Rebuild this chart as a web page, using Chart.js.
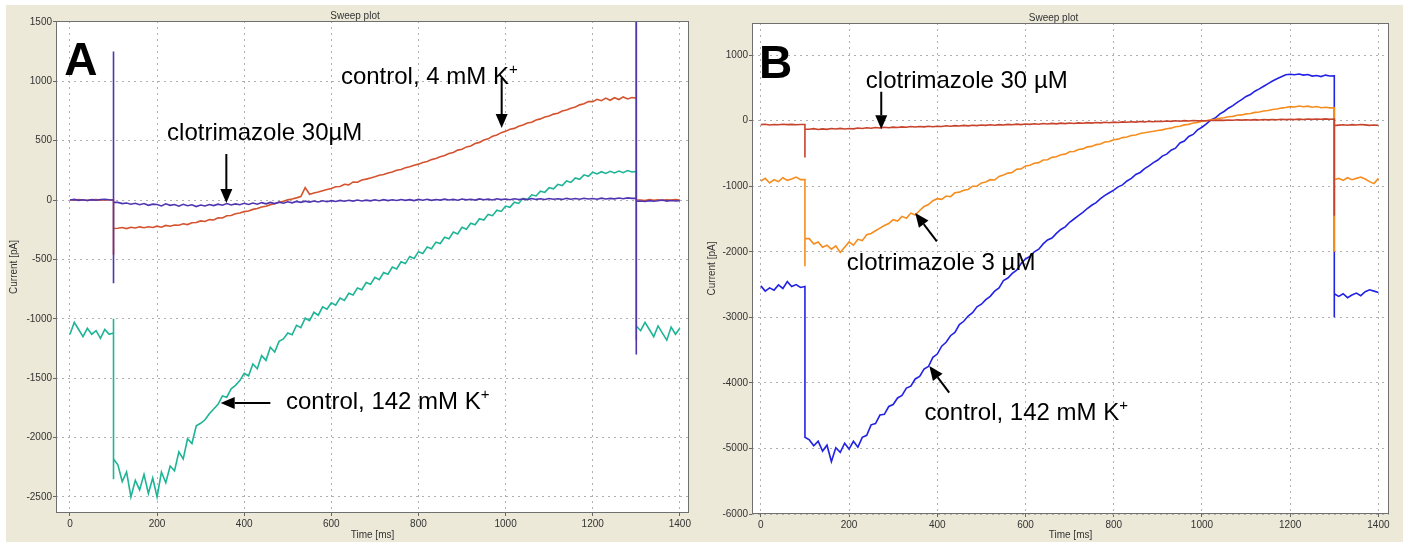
<!DOCTYPE html>
<html>
<head>
<meta charset="utf-8">
<title>Sweep plot</title>
<script src="https://cdn.jsdelivr.net/npm/chart.js"></script>
<style>
body{margin:0;background:#fff;}
.panel{position:absolute;top:5px;height:537px;background:#ece9d8;}
#panelA{left:6px;width:698px;}
#panelB{left:704px;width:699px;}
</style>
</head>
<body>
<div class="panel" id="panelA"><canvas id="chartA"></canvas></div>
<div class="panel" id="panelB"><canvas id="chartB"></canvas></div>
<script>
// sample times [ms]; the steps at 100 and 1300 ms repeat the time
const timeMs = [
  0,10,20,30,40,50,60,70,80,90,
  100,100,100,100,
  110,120,130,140,150,160,170,180,190,200,
  210,220,230,240,250,260,270,280,290,300,
  310,320,330,340,350,360,370,380,390,400,
  410,420,430,440,450,460,470,480,490,500,
  510,520,530,540,550,560,570,580,590,600,
  610,620,630,640,650,660,670,680,690,700,
  710,720,730,740,750,760,770,780,790,800,
  810,820,830,840,850,860,870,880,890,900,
  910,920,930,940,950,960,970,980,990,1000,
  1010,1020,1030,1040,1050,1060,1070,1080,1090,1100,
  1110,1120,1130,1140,1150,1160,1170,1180,1190,1200,
  1210,1220,1230,1240,1250,1260,1270,1280,1290,
  1300,1300,1300,1300,
  1310,1320,1330,1340,1350,1360,1370,1380,1390,1400
];

// panel A [pA]
const aClotri30 = [
  0,5,-3,2,-4,3,-2,4,6,2,
  0,1250,-700,-20,
  -20,-30,-25,-35,-28,-40,-30,-45,-35,-38,
  -50,-32,-45,-38,-52,-36,-48,-40,-55,-42,
  -50,-38,-47,-35,-44,-30,-42,-33,-40,-28,
  -38,-26,-35,-22,-32,-20,-30,-18,-27,-15,
  -24,-12,-20,-10,-18,-8,-16,-6,-14,-5,
  -12,-3,-10,-2,-9,0,-8,-1,-7,2,
  -6,3,-5,2,-4,4,-3,3,-5,5,
  -2,6,-3,4,-1,7,0,5,-2,8,
  1,6,-1,9,2,7,0,10,3,8,
  2,11,4,9,3,12,5,10,4,13,
  6,11,5,14,7,12,6,15,8,13,
  7,16,9,14,10,17,11,18,14,
  15,1520,-1300,-10,
  -8,-12,-5,-10,-6,0,-9,-4,-8,-6
];
const aCtrl4 = [
  2,-2,4,0,-3,1,3,-1,2,0,
  0,-460,-250,-240,
  -238,-232,-241,-229,-236,-226,-234,-225,-231,-220,
  -229,-214,-221,-211,-213,-200,-207,-191,-190,-176,
  -181,-165,-168,-149,-151,-133,-130,-116,-110,-98,
  -93,-79,-72,-59,-52,-39,-31,-19,-10,1,
  9,18,29,105,48,59,68,78,88,97,
  112,114,132,128,152,150,168,176,186,196,
  208,214,228,236,250,257,271,280,293,302,
  316,324,340,349,365,375,392,400,420,428,
  447,455,475,485,505,515,537,548,567,578,
  596,603,621,631,648,655,673,683,698,708,
  723,731,750,758,773,783,801,811,829,828,
  848,836,858,840,861,846,868,851,863,
  858,1520,0,0,
  0,-4,3,-2,2,-3,1,-1,3,0
];
const aCtrl142 = [
  -1130,-1030,-1090,-1150,-1080,-1130,-1100,-1165,-1090,-1130,
  -1120,-1000,-2350,-2180,
  -2230,-2370,-2290,-2500,-2360,-2440,-2310,-2470,-2340,-2500,
  -2290,-2380,-2240,-2280,-2120,-2180,-2010,-2050,-1900,-1880,
  -1850,-1800,-1760,-1720,-1650,-1660,-1590,-1560,-1520,-1460,
  -1480,-1380,-1420,-1310,-1350,-1240,-1280,-1190,-1170,-1120,
  -1135,-1055,-1075,-995,-1015,-945,-970,-900,-920,-865,
  -885,-825,-845,-785,-800,-740,-755,-695,-710,-650,
  -670,-610,-625,-565,-580,-520,-535,-475,-492,-435,
  -450,-395,-410,-355,-366,-313,-327,-270,-286,-230,
  -246,-196,-209,-158,-169,-121,-132,-86,-96,-51,
  -62,-18,-29,14,4,44,34,74,64,104,
  94,132,122,160,148,186,174,212,200,234,
  220,238,224,242,228,244,230,248,236,
  240,-1180,-1100,-1060,
  -1100,-1030,-1090,-1150,-1060,-1120,-1180,-1070,-1130,-1080
];

// panel B [pA]
const bClotri30 = [
  -60,-55,-65,-58,-62,-54,-60,-57,-63,-58,
  -58,-560,-140,-127,
  -130,-122,-135,-125,-132,-120,-128,-118,-126,-120,
  -125,-112,-120,-108,-116,-105,-112,-100,-108,-98,
  -104,-94,-100,-90,-97,-88,-95,-85,-92,-84,
  -88,-78,-85,-75,-82,-72,-79,-69,-76,-66,
  -72,-63,-69,-60,-66,-56,-63,-53,-60,-50,
  -57,-47,-54,-44,-51,-41,-48,-38,-45,-36,
  -42,-33,-40,-30,-37,-27,-34,-24,-31,-22,
  -28,-19,-25,-16,-22,-13,-19,-10,-16,-8,
  -13,-5,-10,-2,-8,1,-5,3,-3,-2,
  0,3,2,9,4,11,6,13,8,14,
  10,16,11,18,13,19,14,21,16,22,
  18,24,19,25,20,26,21,27,22,
  24,-1450,-90,-75,
  -68,-62,-70,-60,-66,-58,-64,-72,-65,-70
];
const bClotri3 = [
  -920,-880,-950,-900,-930,-870,-910,-890,-860,-900,
  -900,-2220,-1750,-1800,
  -1800,-1880,-1850,-1930,-1900,-1960,-1910,-2010,-1930,-1850,
  -1900,-1810,-1830,-1740,-1720,-1680,-1640,-1600,-1570,-1510,
  -1530,-1460,-1490,-1410,-1440,-1370,-1310,-1280,-1220,-1190,
  -1200,-1150,-1160,-1100,-1090,-1060,-1050,-1000,-1000,-950,
  -935,-900,-905,-850,-830,-800,-790,-740,-735,-690,
  -680,-650,-640,-600,-595,-560,-550,-520,-510,-475,
  -470,-440,-430,-400,-392,-365,-355,-325,-318,-290,
  -282,-258,-250,-225,-218,-195,-185,-172,-162,-150,
  -140,-122,-114,-92,-86,-64,-56,-36,-28,-10,
  -2,14,20,38,44,60,66,82,88,104,
  110,126,132,148,155,170,178,192,200,214,
  208,224,212,222,206,215,198,205,195,
  195,-2000,-950,-900,
  -880,-910,-870,-900,-880,-860,-890,-930,-960,-880
];
const bCtrl142 = [
  -2520,-2600,-2550,-2585,-2505,-2560,-2455,-2530,-2500,-2545,
  -2530,-2850,-4800,-4830,
  -4870,-4960,-4890,-5040,-4950,-5200,-4990,-5060,-4920,-5010,
  -4890,-4980,-4830,-4800,-4640,-4620,-4490,-4480,-4360,-4330,
  -4230,-4190,-4080,-4050,-3940,-3900,-3790,-3750,-3610,-3560,
  -3440,-3380,-3280,-3230,-3110,-3060,-2980,-2930,-2840,-2800,
  -2730,-2680,-2600,-2550,-2440,-2400,-2330,-2280,-2180,-2110,
  -2070,-2000,-1960,-1880,-1820,-1790,-1720,-1660,-1620,-1550,
  -1500,-1450,-1400,-1340,-1290,-1250,-1190,-1140,-1100,-1060,
  -1010,-980,-920,-880,-820,-790,-730,-690,-640,-600,
  -540,-510,-450,-420,-340,-310,-240,-210,-140,-100,
  -50,10,40,100,140,190,230,280,320,370,
  400,450,485,525,565,605,640,670,700,708,
  700,712,695,705,680,690,672,695,682,
  685,-3000,-2600,-2640,
  -2680,-2640,-2700,-2660,-2630,-2670,-2610,-2580,-2600,-2620
];

const xTicks = [0,200,400,600,800,1000,1200,1400];
const yTicksA = [-2500,-2000,-1500,-1000,-500,0,500,1000,1500];
const yTicksB = [-6000,-5000,-4000,-3000,-2000,-1000,0,1000];

const FONT = "'Liberation Sans', Arial, sans-serif";

function pts(arr){
  return timeMs.map(function(t,i){ return {x:t, y:arr[i]}; });
}

function arrow(ctx, x1, y1, x2, y2){
  var a = Math.atan2(y2-y1, x2-x1), L = 14, W = 6;
  var bx = x2 - L*Math.cos(a), by = y2 - L*Math.sin(a);
  ctx.beginPath(); ctx.moveTo(x1,y1); ctx.lineTo(bx,by); ctx.stroke();
  ctx.beginPath();
  ctx.moveTo(x2,y2);
  ctx.lineTo(bx - W*Math.sin(a), by + W*Math.cos(a));
  ctx.lineTo(bx + W*Math.sin(a), by - W*Math.cos(a));
  ctx.closePath(); ctx.fill();
}

// white plot area, frame, "Sweep plot" and the labels/arrows (in data units)
const sweepDecor = {
  id: 'sweepDecor',
  beforeDraw: function(chart){
    var a = chart.chartArea, ctx = chart.ctx;
    ctx.save();
    ctx.fillStyle = '#fff';
    ctx.fillRect(a.left, a.top, a.right-a.left, a.bottom-a.top);
    ctx.restore();
  },
  afterDatasetsDraw: function(chart, args, opts){
    var a = chart.chartArea, ctx = chart.ctx;
    var xs = chart.scales.x, ys = chart.scales.y;
    ctx.save();
    ctx.strokeStyle = '#707070'; ctx.lineWidth = 1;
    ctx.strokeRect(a.left+0.5, a.top+0.5, a.right-a.left-1, a.bottom-a.top-1);

    ctx.fillStyle = '#333';
    ctx.font = '10px ' + FONT;
    ctx.textAlign = 'center'; ctx.textBaseline = 'middle';
    ctx.fillText('Sweep plot', chart.width/2, a.top - 5);

    ctx.fillStyle = '#000'; ctx.strokeStyle = '#000';
    ctx.textAlign = 'left'; ctx.textBaseline = 'alphabetic';
    ctx.font = 'bold 46px ' + FONT;
    ctx.fillText(opts.letter.text, xs.getPixelForValue(opts.letter.t), ys.getPixelForValue(opts.letter.v));

    opts.labels.forEach(function(l){
      var x = xs.getPixelForValue(l.t), y = ys.getPixelForValue(l.v);
      ctx.font = '24px ' + FONT;
      ctx.fillText(l.text, x, y);
      if (l.sup){
        var w = ctx.measureText(l.text).width;
        ctx.font = '15px ' + FONT;
        ctx.fillText(l.sup, x + w, y - 10);
      }
    });
    ctx.lineWidth = 2;
    opts.arrows.forEach(function(r){
      arrow(ctx, xs.getPixelForValue(r.t1), ys.getPixelForValue(r.v1),
                 xs.getPixelForValue(r.t2), ys.getPixelForValue(r.v2));
    });
    ctx.restore();
  }
};

function makeConfig(p){
  return {
    type: 'line',
    data: { datasets: p.datasets.map(function(d){
      return { data: pts(d.values), borderColor: d.color, borderWidth: 1.6,
               pointRadius: 0, tension: 0, fill: false };
    })},
    options: {
      responsive: true,
      maintainAspectRatio: false,
      animation: false,
      events: [],
      layout: { padding: { left: 0, right: p.padRight, top: p.padTop, bottom: 0 } },
      plugins: {
        legend: { display: false },
        tooltip: { enabled: false },
        sweepDecor: p.notes
      },
      scales: {
        x: {
          type: 'linear', min: p.xMin, max: p.xMax,
          afterBuildTicks: function(s){ s.ticks = xTicks.map(function(v){ return {value:v}; }); },
          afterFit: function(s){ s.height = p.xAxisH; },
          ticks: { color:'#333', font:{family:FONT, size:10}, padding:2, maxRotation:0, autoSkip:false,
                   callback: function(v){ return String(v); } },
          grid: { color:'#b0b0b0', tickLength:3, tickColor:'#666', tickBorderDash:[] },
          border: { display:false, dash:[2,4] },
          title: { display:true, text:'Time [ms]', color:'#333', font:{family:FONT, size:10}, padding:{top:0,bottom:1} }
        },
        y: {
          type: 'linear', min: p.yMin, max: p.yMax,
          afterBuildTicks: function(s){ s.ticks = p.yTicks.map(function(v){ return {value:v}; }); },
          afterFit: function(s){ s.width = p.yAxisW; },
          ticks: { color:'#333', font:{family:FONT, size:10}, padding:1, autoSkip:false,
                   callback: function(v){ return String(v); } },
          grid: { color:'#b0b0b0', tickLength:3, tickColor:'#666', tickBorderDash:[] },
          border: { display:false, dash:[2,4] },
          title: { display:true, text:'Current [pA]', color:'#333', font:{family:FONT, size:10}, padding:{top:2,bottom:0} }
        }
      }
    },
    plugins: [sweepDecor]
  };
}

new Chart(document.getElementById('chartA'), makeConfig({
  xMin: -32, xMax: 1421, yMin: -2635, yMax: 1507, yTicks: yTicksA,
  padRight: 15, padTop: 16, xAxisH: 29, yAxisW: 50,
  datasets: [
    { values: aClotri30, color: '#4f36b0' },
    { values: aCtrl4, color: '#d4532e' },
    { values: aCtrl142, color: '#1eb496' }
  ],
  notes: {
    letter: { text: 'A', t: -13, v: 1052 },
    labels: [
      { text: 'control, 4 mM K', sup: '+', t: 622, v: 976 },
      { text: 'clotrimazole 30\u00b5M', t: 223, v: 505 },
      { text: 'control, 142 mM K', sup: '+', t: 496, v: -1759 }
    ],
    arrows: [
      { t1: 991, v1: 1027, t2: 991, v2: 606 },
      { t1: 359, v1: 387, t2: 359, v2: -25 },
      { t1: 460, v1: -1709, t2: 346, v2: -1709 }
    ]
  }
}));

new Chart(document.getElementById('chartB'), makeConfig({
  xMin: -20, xMax: 1424, yMin: -6000, yMax: 1490, yTicks: yTicksB,
  padRight: 14, padTop: 18, xAxisH: 28, yAxisW: 48,
  datasets: [
    { values: bClotri30, color: '#c8432c' },
    { values: bClotri3, color: '#f58d1e' },
    { values: bCtrl142, color: '#2222e4' }
  ],
  notes: {
    letter: { text: 'B', t: -4, v: 650 },
    labels: [
      { text: 'clotrimazole 30 \u00b5M', t: 238, v: 505 },
      { text: 'clotrimazole 3 \u00b5M', t: 195, v: -2272 },
      { text: 'control, 142 mM K', sup: '+', t: 371, v: -4566 }
    ],
    arrows: [
      { t1: 273, v1: 441, t2: 273, v2: -131 },
      { t1: 399, v1: -1842, t2: 350, v2: -1409 },
      { t1: 427, v1: -4149, t2: 382, v2: -3744 }
    ]
  }
}));
</script>
</body>
</html>
